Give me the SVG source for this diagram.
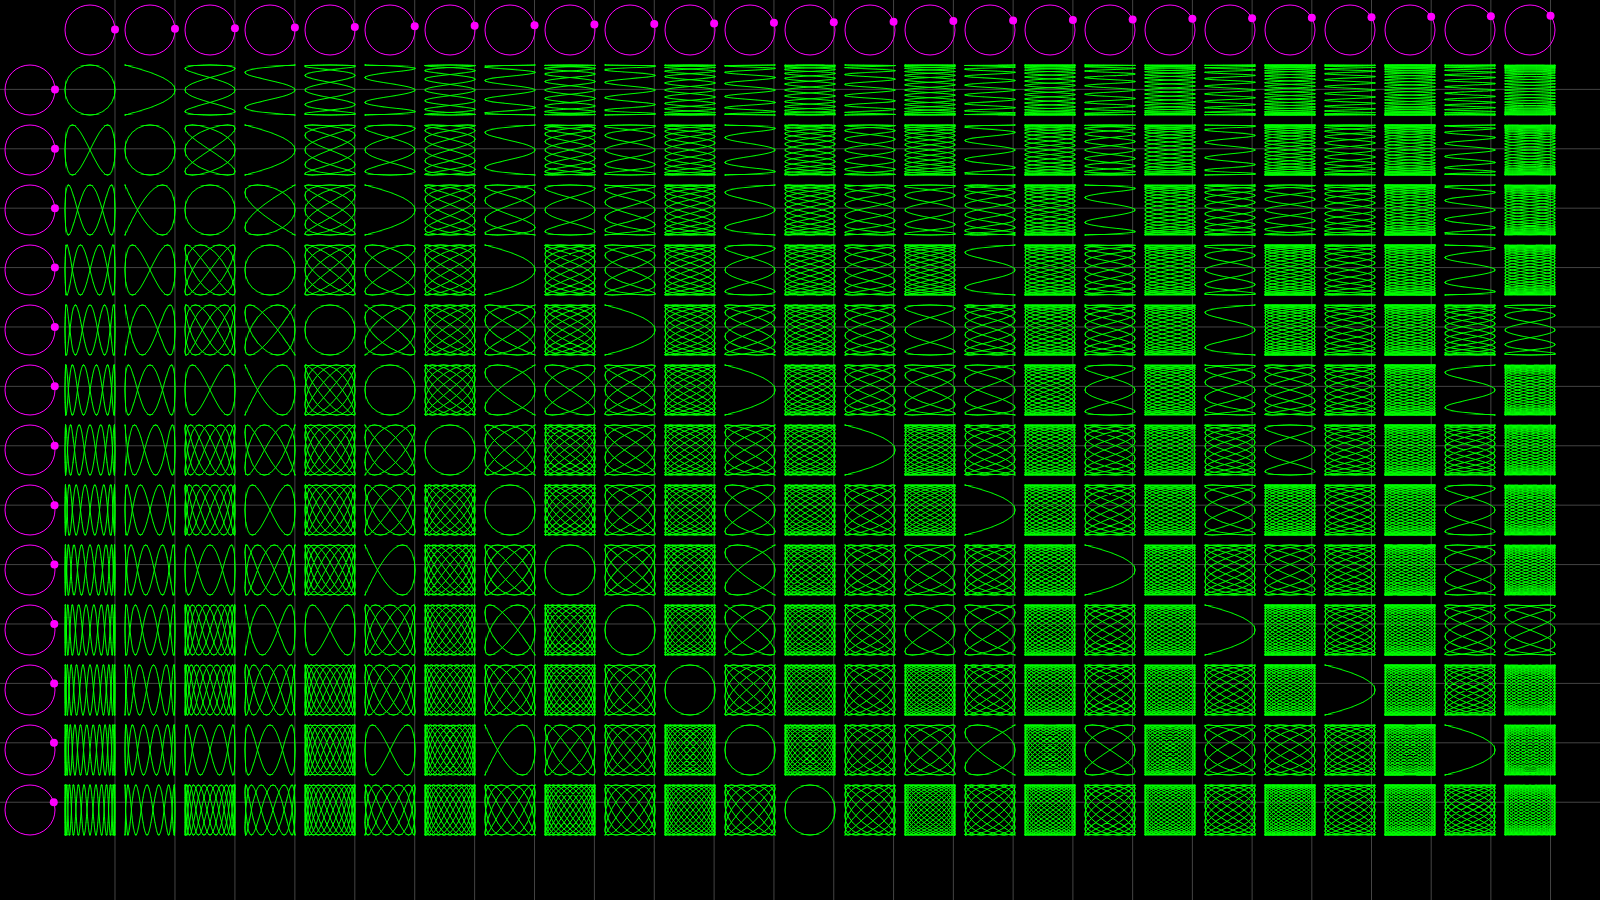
<svg xmlns="http://www.w3.org/2000/svg" width="1600" height="900" viewBox="0 0 1600 900">
<style>
.g{fill:none;stroke:#0f0;stroke-width:1px;vector-effect:non-scaling-stroke}
.sc{transform:scale(var(--sx),var(--sy))}
.u1{--sx:3.141593}.u2{--sx:1.570796}.u3{--sx:1.047198}.u4{--sx:.785398}.u5{--sx:.628319}.u6{--sx:.523599}.u7{--sx:.448799}.u8{--sx:.392699}.u9{--sx:.349066}.u10{--sx:.314159}.u11{--sx:.285599}.u12{--sx:.261799}.u13{--sx:.241661}
.U1{--sx:6.283185}.U3{--sx:2.094395}.U5{--sx:1.256637}.U7{--sx:.897598}.U9{--sx:.698132}.U11{--sx:.571199}.U13{--sx:.483322}
.v1{--sy:3.141593}.v3{--sy:1.047198}.v5{--sy:.628319}.v7{--sy:.448799}.v9{--sy:.349066}.v11{--sy:.285599}.v13{--sy:.241661}.v15{--sy:.20944}.v17{--sy:.1848}.v19{--sy:.165347}.v21{--sy:.1496}.v23{--sy:.136591}.v25{--sy:.125664}
.V2{--sy:3.141593}.V4{--sy:1.570796}.V6{--sy:1.047198}.V8{--sy:.785398}.V10{--sy:.628319}.V12{--sy:.523599}.V14{--sy:.448799}.V16{--sy:.392699}.V18{--sy:.349066}.V20{--sy:.314159}.V22{--sy:.285599}.V24{--sy:.261799}
.hc{fill:none;stroke:#f0f;stroke-width:1}
.dot{fill:#f0f}
.ln{fill:none;stroke:#444;stroke-width:1}
</style>
<defs>
<path id="ps" class="g sc" d="M-8.2-4.2l8.4 8.4m-7.4-8.4l8.4 8.4m-7.4-8.4l8.4 8.4m-7.4-8.4l8.4 8.4m-7.4-8.4l8.4 8.4m-7.4-8.4l8.4 8.4m-7.4-8.4l8.4 8.4m-7.4-8.4l8.4 8.4m-7.4-8.4l8.4 8.4m-7.4-8.4l8.4 8.4m-7.4-8.4l8.4 8.4m-7.4-8.4l8.4 8.4m-7.4-8.4l8.4 8.4m-7.4-8.4l8.4 8.4M.2-4.2l-8.4 8.4m9.4-8.4l-8.4 8.4m9.4-8.4l-8.4 8.4m9.4-8.4l-8.4 8.4m9.4-8.4l-8.4 8.4m9.4-8.4l-8.4 8.4m9.4-8.4l-8.4 8.4m9.4-8.4l-8.4 8.4m9.4-8.4l-8.4 8.4m9.4-8.4l-8.4 8.4m9.4-8.4l-8.4 8.4m9.4-8.4l-8.4 8.4m9.4-8.4l-8.4 8.4m9.4-8.4l-8.4 8.4"/>
<path id="pm" class="g sc" d="M-12.7-6.7l13.4 13.4m-12.4-13.4l13.4 13.4m-12.4-13.4l13.4 13.4m-12.4-13.4l13.4 13.4m-12.4-13.4l13.4 13.4m-12.4-13.4l13.4 13.4m-12.4-13.4l13.4 13.4m-12.4-13.4l13.4 13.4m-12.4-13.4l13.4 13.4m-12.4-13.4l13.4 13.4m-12.4-13.4l13.4 13.4m-12.4-13.4l13.4 13.4m-12.4-13.4l13.4 13.4m-12.4-13.4l13.4 13.4m-12.4-13.4l13.4 13.4m-12.4-13.4l13.4 13.4m-12.4-13.4l13.4 13.4m-12.4-13.4l13.4 13.4m-12.4-13.4l13.4 13.4m-12.4-13.4l13.4 13.4m-12.4-13.4l13.4 13.4m-12.4-13.4l13.4 13.4m-12.4-13.4l13.4 13.4m-12.4-13.4l13.4 13.4m-12.4-13.4l13.4 13.4m-12.4-13.4l13.4 13.4m-12.4-13.4l13.4 13.4M.7-6.7l-13.4 13.4m14.4-13.4l-13.4 13.4m14.4-13.4l-13.4 13.4m14.4-13.4l-13.4 13.4m14.4-13.4l-13.4 13.4m14.4-13.4l-13.4 13.4m14.4-13.4l-13.4 13.4m14.4-13.4l-13.4 13.4m14.4-13.4l-13.4 13.4m14.4-13.4l-13.4 13.4m14.4-13.4l-13.4 13.4m14.4-13.4l-13.4 13.4m14.4-13.4l-13.4 13.4m14.4-13.4l-13.4 13.4m14.4-13.4l-13.4 13.4m14.4-13.4l-13.4 13.4m14.4-13.4l-13.4 13.4m14.4-13.4l-13.4 13.4m14.4-13.4l-13.4 13.4m14.4-13.4l-13.4 13.4m14.4-13.4l-13.4 13.4m14.4-13.4l-13.4 13.4m14.4-13.4l-13.4 13.4m14.4-13.4l-13.4 13.4m14.4-13.4l-13.4 13.4m14.4-13.4l-13.4 13.4m14.4-13.4l-13.4 13.4"/>
<path id="pl" class="g sc" d="M-24.7-12.7l25.4 25.4m-24.4-25.4l25.4 25.4m-24.4-25.4l25.4 25.4m-24.4-25.4l25.4 25.4m-24.4-25.4l25.4 25.4m-24.4-25.4l25.4 25.4m-24.4-25.4l25.4 25.4m-24.4-25.4l25.4 25.4m-24.4-25.4l25.4 25.4m-24.4-25.4l25.4 25.4m-24.4-25.4l25.4 25.4m-24.4-25.4l25.4 25.4m-24.4-25.4l25.4 25.4m-24.4-25.4l25.4 25.4m-24.4-25.4l25.4 25.4m-24.4-25.4l25.4 25.4m-24.4-25.4l25.4 25.4m-24.4-25.4l25.4 25.4m-24.4-25.4l25.4 25.4m-24.4-25.4l25.4 25.4m-24.4-25.4l25.4 25.4m-24.4-25.4l25.4 25.4m-24.4-25.4l25.4 25.4m-24.4-25.4l25.4 25.4m-24.4-25.4l25.4 25.4m-24.4-25.4l25.4 25.4m-24.4-25.4l25.4 25.4m-24.4-25.4l25.4 25.4m-24.4-25.4l25.4 25.4m-24.4-25.4l25.4 25.4m-24.4-25.4l25.4 25.4m-24.4-25.4l25.4 25.4m-24.4-25.4l25.4 25.4m-24.4-25.4l25.4 25.4m-24.4-25.4l25.4 25.4m-24.4-25.4l25.4 25.4m-24.4-25.4l25.4 25.4m-24.4-25.4l25.4 25.4m-24.4-25.4l25.4 25.4M.7-12.7l-25.4 25.4m26.4-25.4l-25.4 25.4m26.4-25.4l-25.4 25.4m26.4-25.4l-25.4 25.4m26.4-25.4l-25.4 25.4m26.4-25.4l-25.4 25.4m26.4-25.4l-25.4 25.4m26.4-25.4l-25.4 25.4m26.4-25.4l-25.4 25.4m26.4-25.4l-25.4 25.4m26.4-25.4l-25.4 25.4m26.4-25.4l-25.4 25.4m26.4-25.4l-25.4 25.4m26.4-25.4l-25.4 25.4m26.4-25.4l-25.4 25.4m26.4-25.4l-25.4 25.4m26.4-25.4l-25.4 25.4m26.4-25.4l-25.4 25.4m26.4-25.4l-25.4 25.4m26.4-25.4l-25.4 25.4m26.4-25.4l-25.4 25.4m26.4-25.4l-25.4 25.4m26.4-25.4l-25.4 25.4m26.4-25.4l-25.4 25.4m26.4-25.4l-25.4 25.4m26.4-25.4l-25.4 25.4m26.4-25.4l-25.4 25.4m26.4-25.4l-25.4 25.4m26.4-25.4l-25.4 25.4m26.4-25.4l-25.4 25.4m26.4-25.4l-25.4 25.4m26.4-25.4l-25.4 25.4m26.4-25.4l-25.4 25.4m26.4-25.4l-25.4 25.4m26.4-25.4l-25.4 25.4m26.4-25.4l-25.4 25.4m26.4-25.4l-25.4 25.4m26.4-25.4l-25.4 25.4m26.4-25.4l-25.4 25.4"/>
<clipPath id="c0"><rect x="-.1" y="-1.5708" width="3.4" height=".3078"/></clipPath>
<clipPath id="c1"><rect x="-.1" y="-1.3247" width="3.4" height=".2932"/></clipPath>
<clipPath id="c2"><rect x="-.1" y="-1.0571" width="3.4" height=".2816"/></clipPath>
<clipPath id="c3"><rect x="-.1" y="-.793" width="3.4" height=".277"/></clipPath>
<clipPath id="c4"><rect x="-.1" y="-.5301" width="3.4" height=".2748"/></clipPath>
<clipPath id="c5"><rect x="-.1" y="-.2679" width="3.4" height=".5358"/></clipPath>
<clipPath id="c7"><rect x="-.1" y=".2553" width="3.4" height=".2748"/></clipPath>
<clipPath id="c8"><rect x="-.1" y=".516" width="3.4" height=".277"/></clipPath>
<clipPath id="c9"><rect x="-.1" y=".7755" width="3.4" height=".2816"/></clipPath>
<clipPath id="c10"><rect x="-.1" y="1.0315" width="3.4" height=".2932"/></clipPath>
<clipPath id="c11"><rect x="-.1" y="1.263" width="3.4" height=".3078"/></clipPath>
<clipPath id="d0"><rect x="0" y="-27" width=".3078" height="54"/></clipPath>
<clipPath id="d1"><rect x=".2461" y="-27" width=".2932" height="54"/></clipPath>
<clipPath id="d2"><rect x=".5137" y="-27" width=".2816" height="54"/></clipPath>
<clipPath id="d3"><rect x=".7778" y="-27" width=".277" height="54"/></clipPath>
<clipPath id="d4"><rect x="1.0407" y="-27" width=".2748" height="54"/></clipPath>
<clipPath id="d5"><rect x="1.3029" y="-27" width=".5358" height="54"/></clipPath>
<clipPath id="d7"><rect x="1.8261" y="-27" width=".2748" height="54"/></clipPath>
<clipPath id="d8"><rect x="2.0868" y="-27" width=".277" height="54"/></clipPath>
<clipPath id="d9"><rect x="2.3463" y="-27" width=".2816" height="54"/></clipPath>
<clipPath id="d10"><rect x="2.6023" y="-27" width=".2932" height="54"/></clipPath>
<clipPath id="d11"><rect x="2.8338" y="-27" width=".3078" height="54"/></clipPath>
<g id="vs">
<use href="#ps" transform="matrix(1 0 0 -3.25384 0 19.88888)" clip-path="url(#c0)"/>
<use href="#ps" transform="matrix(1 0 0 -5.1637 0 17.38888)" clip-path="url(#c0)"/>
<use href="#ps" transform="matrix(1 0 0 -9.53979 0 11.6606)" clip-path="url(#c1)"/>
<use href="#ps" transform="matrix(1 0 0 -15.17561 0 5.75877)" clip-path="url(#c2)"/>
<use href="#ps" transform="matrix(1 0 0 -19.77723 0 2.14467)" clip-path="url(#c3)"/>
<use href="#ps" transform="matrix(1 0 0 -23.03107 0 .44096)" clip-path="url(#c4)"/>
<use href="#ps" transform="matrix(1 0 0 -24.7154 0 0)" clip-path="url(#c5)"/>
<use href="#ps" transform="matrix(1 0 0 -23.03107 0 -.44096)" clip-path="url(#c7)"/>
<use href="#ps" transform="matrix(1 0 0 -19.77723 0 -2.14467)" clip-path="url(#c8)"/>
<use href="#ps" transform="matrix(1 0 0 -15.17561 0 -5.75877)" clip-path="url(#c9)"/>
<use href="#ps" transform="matrix(1 0 0 -9.53979 0 -11.6606)" clip-path="url(#c10)"/>
<use href="#ps" transform="matrix(1 0 0 -3.25384 0 -19.88888)" clip-path="url(#c11)"/>
<use href="#ps" transform="matrix(1 0 0 -5.1637 0 -17.38888)" clip-path="url(#c11)"/>
</g>
<g id="vm">
<use href="#pm" transform="matrix(1 0 0 -3.25384 0 19.88888)" clip-path="url(#c0)"/>
<use href="#pm" transform="matrix(1 0 0 -5.1637 0 17.38888)" clip-path="url(#c0)"/>
<use href="#pm" transform="matrix(1 0 0 -9.53979 0 11.6606)" clip-path="url(#c1)"/>
<use href="#pm" transform="matrix(1 0 0 -15.17561 0 5.75877)" clip-path="url(#c2)"/>
<use href="#pm" transform="matrix(1 0 0 -19.77723 0 2.14467)" clip-path="url(#c3)"/>
<use href="#pm" transform="matrix(1 0 0 -23.03107 0 .44096)" clip-path="url(#c4)"/>
<use href="#pm" transform="matrix(1 0 0 -24.7154 0 0)" clip-path="url(#c5)"/>
<use href="#pm" transform="matrix(1 0 0 -23.03107 0 -.44096)" clip-path="url(#c7)"/>
<use href="#pm" transform="matrix(1 0 0 -19.77723 0 -2.14467)" clip-path="url(#c8)"/>
<use href="#pm" transform="matrix(1 0 0 -15.17561 0 -5.75877)" clip-path="url(#c9)"/>
<use href="#pm" transform="matrix(1 0 0 -9.53979 0 -11.6606)" clip-path="url(#c10)"/>
<use href="#pm" transform="matrix(1 0 0 -3.25384 0 -19.88888)" clip-path="url(#c11)"/>
<use href="#pm" transform="matrix(1 0 0 -5.1637 0 -17.38888)" clip-path="url(#c11)"/>
</g>
<g id="vl">
<use href="#pl" transform="matrix(1 0 0 -3.25384 0 19.88888)" clip-path="url(#c0)"/>
<use href="#pl" transform="matrix(1 0 0 -5.1637 0 17.38888)" clip-path="url(#c0)"/>
<use href="#pl" transform="matrix(1 0 0 -9.53979 0 11.6606)" clip-path="url(#c1)"/>
<use href="#pl" transform="matrix(1 0 0 -15.17561 0 5.75877)" clip-path="url(#c2)"/>
<use href="#pl" transform="matrix(1 0 0 -19.77723 0 2.14467)" clip-path="url(#c3)"/>
<use href="#pl" transform="matrix(1 0 0 -23.03107 0 .44096)" clip-path="url(#c4)"/>
<use href="#pl" transform="matrix(1 0 0 -24.7154 0 0)" clip-path="url(#c5)"/>
<use href="#pl" transform="matrix(1 0 0 -23.03107 0 -.44096)" clip-path="url(#c7)"/>
<use href="#pl" transform="matrix(1 0 0 -19.77723 0 -2.14467)" clip-path="url(#c8)"/>
<use href="#pl" transform="matrix(1 0 0 -15.17561 0 -5.75877)" clip-path="url(#c9)"/>
<use href="#pl" transform="matrix(1 0 0 -9.53979 0 -11.6606)" clip-path="url(#c10)"/>
<use href="#pl" transform="matrix(1 0 0 -3.25384 0 -19.88888)" clip-path="url(#c11)"/>
<use href="#pl" transform="matrix(1 0 0 -5.1637 0 -17.38888)" clip-path="url(#c11)"/>
</g>
<g id="s">
<use href="#vs" transform="matrix(-3.25384 0 0 1 25 0)" clip-path="url(#d0)"/>
<use href="#vs" transform="matrix(-5.1637 0 0 1 25.5 0)" clip-path="url(#d0)"/>
<use href="#vs" transform="matrix(-9.53979 0 0 1 26.64566 0)" clip-path="url(#d1)"/>
<use href="#vs" transform="matrix(-15.17561 0 0 1 29.59657 0)" clip-path="url(#d2)"/>
<use href="#vs" transform="matrix(-19.77723 0 0 1 33.21067 0)" clip-path="url(#d3)"/>
<use href="#vs" transform="matrix(-23.03107 0 0 1 36.61808 0)" clip-path="url(#d4)"/>
<use href="#vs" transform="matrix(-24.7154 0 0 1 38.82287 0)" clip-path="url(#d5)"/>
<use href="#vs" transform="matrix(-23.03107 0 0 1 35.73617 0)" clip-path="url(#d7)"/>
<use href="#vs" transform="matrix(-19.77723 0 0 1 28.92133 0)" clip-path="url(#d8)"/>
<use href="#vs" transform="matrix(-15.17561 0 0 1 18.07903 0)" clip-path="url(#d9)"/>
<use href="#vs" transform="matrix(-9.53979 0 0 1 3.32447 0)" clip-path="url(#d10)"/>
<use href="#vs" transform="matrix(-3.25384 0 0 1 -14.77776 0)" clip-path="url(#d11)"/>
<use href="#vs" transform="matrix(-5.1637 0 0 1 -9.27776 0)" clip-path="url(#d11)"/>
</g>
<g id="m">
<use href="#vm" transform="matrix(-3.25384 0 0 1 25 0)" clip-path="url(#d0)"/>
<use href="#vm" transform="matrix(-5.1637 0 0 1 25.5 0)" clip-path="url(#d0)"/>
<use href="#vm" transform="matrix(-9.53979 0 0 1 26.64566 0)" clip-path="url(#d1)"/>
<use href="#vm" transform="matrix(-15.17561 0 0 1 29.59657 0)" clip-path="url(#d2)"/>
<use href="#vm" transform="matrix(-19.77723 0 0 1 33.21067 0)" clip-path="url(#d3)"/>
<use href="#vm" transform="matrix(-23.03107 0 0 1 36.61808 0)" clip-path="url(#d4)"/>
<use href="#vm" transform="matrix(-24.7154 0 0 1 38.82287 0)" clip-path="url(#d5)"/>
<use href="#vm" transform="matrix(-23.03107 0 0 1 35.73617 0)" clip-path="url(#d7)"/>
<use href="#vm" transform="matrix(-19.77723 0 0 1 28.92133 0)" clip-path="url(#d8)"/>
<use href="#vm" transform="matrix(-15.17561 0 0 1 18.07903 0)" clip-path="url(#d9)"/>
<use href="#vm" transform="matrix(-9.53979 0 0 1 3.32447 0)" clip-path="url(#d10)"/>
<use href="#vm" transform="matrix(-3.25384 0 0 1 -14.77776 0)" clip-path="url(#d11)"/>
<use href="#vm" transform="matrix(-5.1637 0 0 1 -9.27776 0)" clip-path="url(#d11)"/>
</g>
<g id="l">
<use href="#vl" transform="matrix(-3.25384 0 0 1 25 0)" clip-path="url(#d0)"/>
<use href="#vl" transform="matrix(-5.1637 0 0 1 25.5 0)" clip-path="url(#d0)"/>
<use href="#vl" transform="matrix(-9.53979 0 0 1 26.64566 0)" clip-path="url(#d1)"/>
<use href="#vl" transform="matrix(-15.17561 0 0 1 29.59657 0)" clip-path="url(#d2)"/>
<use href="#vl" transform="matrix(-19.77723 0 0 1 33.21067 0)" clip-path="url(#d3)"/>
<use href="#vl" transform="matrix(-23.03107 0 0 1 36.61808 0)" clip-path="url(#d4)"/>
<use href="#vl" transform="matrix(-24.7154 0 0 1 38.82287 0)" clip-path="url(#d5)"/>
<use href="#vl" transform="matrix(-23.03107 0 0 1 35.73617 0)" clip-path="url(#d7)"/>
<use href="#vl" transform="matrix(-19.77723 0 0 1 28.92133 0)" clip-path="url(#d8)"/>
<use href="#vl" transform="matrix(-15.17561 0 0 1 18.07903 0)" clip-path="url(#d9)"/>
<use href="#vl" transform="matrix(-9.53979 0 0 1 3.32447 0)" clip-path="url(#d10)"/>
<use href="#vl" transform="matrix(-3.25384 0 0 1 -14.77776 0)" clip-path="url(#d11)"/>
<use href="#vl" transform="matrix(-5.1637 0 0 1 -9.27776 0)" clip-path="url(#d11)"/>
</g>
</defs>
<rect width="1600" height="900" fill="#000"/>
<g id="guide-lines" class="ln">
<path d="M114.99 0V900M174.97 0V900M234.93 0V900M294.88 0V900M354.82 0V900M414.73 0V900M474.64 0V900M534.53 0V900M594.4 0V900M654.27 0V900M714.11 0V900M773.94 0V900M833.76 0V900M893.57 0V900M953.36 0V900M1013.13 0V900M1072.9 0V900M1132.65 0V900M1192.38 0V900M1252.11 0V900M1311.82 0V900M1371.51 0V900M1431.2 0V900M1490.87 0V900M1550.53 0V900"/>
<path d="M0 89.39H1600M0 148.79H1600M0 208.18H1600M0 267.57H1600M0 326.97H1600M0 386.37H1600M0 445.77H1600M0 505.17H1600M0 564.58H1600M0 623.98H1600M0 683.4H1600M0 742.81H1600M0 802.23H1600"/>
</g>
<g id="header-circles" class="hc">
<circle cx="90" cy="30" r="25"/><circle cx="150" cy="30" r="25"/><circle cx="210" cy="30" r="25"/><circle cx="270" cy="30" r="25"/><circle cx="330" cy="30" r="25"/><circle cx="390" cy="30" r="25"/><circle cx="450" cy="30" r="25"/><circle cx="510" cy="30" r="25"/><circle cx="570" cy="30" r="25"/><circle cx="630" cy="30" r="25"/><circle cx="690" cy="30" r="25"/><circle cx="750" cy="30" r="25"/><circle cx="810" cy="30" r="25"/><circle cx="870" cy="30" r="25"/><circle cx="930" cy="30" r="25"/><circle cx="990" cy="30" r="25"/><circle cx="1050" cy="30" r="25"/><circle cx="1110" cy="30" r="25"/><circle cx="1170" cy="30" r="25"/><circle cx="1230" cy="30" r="25"/><circle cx="1290" cy="30" r="25"/><circle cx="1350" cy="30" r="25"/><circle cx="1410" cy="30" r="25"/><circle cx="1470" cy="30" r="25"/><circle cx="1530" cy="30" r="25"/>
<circle cx="30" cy="90" r="25"/><circle cx="30" cy="150" r="25"/><circle cx="30" cy="210" r="25"/><circle cx="30" cy="270" r="25"/><circle cx="30" cy="330" r="25"/><circle cx="30" cy="390" r="25"/><circle cx="30" cy="450" r="25"/><circle cx="30" cy="510" r="25"/><circle cx="30" cy="570" r="25"/><circle cx="30" cy="630" r="25"/><circle cx="30" cy="690" r="25"/><circle cx="30" cy="750" r="25"/><circle cx="30" cy="810" r="25"/>
</g>
<g id="header-dots" class="dot">
<circle cx="114.99" cy="29.39" r="4"/><circle cx="174.97" cy="28.79" r="4"/><circle cx="234.93" cy="28.18" r="4"/><circle cx="294.88" cy="27.57" r="4"/><circle cx="354.82" cy="26.97" r="4"/><circle cx="414.73" cy="26.37" r="4"/><circle cx="474.64" cy="25.77" r="4"/><circle cx="534.53" cy="25.17" r="4"/><circle cx="594.4" cy="24.58" r="4"/><circle cx="654.27" cy="23.98" r="4"/><circle cx="714.11" cy="23.4" r="4"/><circle cx="773.94" cy="22.81" r="4"/><circle cx="833.76" cy="22.23" r="4"/><circle cx="893.57" cy="21.66" r="4"/><circle cx="953.36" cy="21.09" r="4"/><circle cx="1013.13" cy="20.52" r="4"/><circle cx="1072.9" cy="19.96" r="4"/><circle cx="1132.65" cy="19.41" r="4"/><circle cx="1192.38" cy="18.86" r="4"/><circle cx="1252.11" cy="18.32" r="4"/><circle cx="1311.82" cy="17.79" r="4"/><circle cx="1371.51" cy="17.26" r="4"/><circle cx="1431.2" cy="16.74" r="4"/><circle cx="1490.87" cy="16.23" r="4"/><circle cx="1550.53" cy="15.73" r="4"/>
<circle cx="54.99" cy="89.39" r="4"/><circle cx="54.97" cy="148.79" r="4"/><circle cx="54.93" cy="208.18" r="4"/><circle cx="54.88" cy="267.57" r="4"/><circle cx="54.82" cy="326.97" r="4"/><circle cx="54.73" cy="386.37" r="4"/><circle cx="54.64" cy="445.77" r="4"/><circle cx="54.53" cy="505.17" r="4"/><circle cx="54.4" cy="564.58" r="4"/><circle cx="54.27" cy="623.98" r="4"/><circle cx="54.11" cy="683.4" r="4"/><circle cx="53.94" cy="742.81" r="4"/><circle cx="53.76" cy="802.23" r="4"/>
</g>
<g id="curves">
<g id="row1" transform="translate(0 90)">
<use href="#s" class="u1 v1" x="90"/><use href="#s" class="U1 V2" x="150"/><use href="#s" class="u1 v3" x="210"/><use href="#s" class="U1 V4" x="270"/><use href="#s" class="u1 v5" x="330"/><use href="#s" class="U1 V6" x="390"/><use href="#s" class="u1 v7" x="450"/><use href="#s" class="U1 V8" x="510"/><use href="#m" class="u1 v9" x="570"/><use href="#s" class="U1 V10" x="630"/><use href="#m" class="u1 v11" x="690"/><use href="#s" class="U1 V12" x="750"/><use href="#m" class="u1 v13" x="810"/><use href="#s" class="U1 V14" x="870"/><use href="#l" class="u1 v15" x="930"/><use href="#s" class="U1 V16" x="990"/><use href="#l" class="u1 v17" x="1050"/><use href="#m" class="U1 V18" x="1110"/><use href="#l" class="u1 v19" x="1170"/><use href="#m" class="U1 V20" x="1230"/><use href="#l" class="u1 v21" x="1290"/><use href="#m" class="U1 V22" x="1350"/><use href="#l" class="u1 v23" x="1410"/><use href="#m" class="U1 V24" x="1470"/><use href="#l" class="u1 v25" x="1530"/>
</g>
<g id="row2" transform="translate(0 150)">
<use href="#s" class="u2 v1" x="90"/><use href="#s" class="u1 v1" x="150"/><use href="#s" class="u2 v3" x="210"/><use href="#s" class="U1 V2" x="270"/><use href="#s" class="u2 v5" x="330"/><use href="#s" class="u1 v3" x="390"/><use href="#s" class="u2 v7" x="450"/><use href="#s" class="U1 V4" x="510"/><use href="#m" class="u2 v9" x="570"/><use href="#s" class="u1 v5" x="630"/><use href="#m" class="u2 v11" x="690"/><use href="#s" class="U1 V6" x="750"/><use href="#m" class="u2 v13" x="810"/><use href="#s" class="u1 v7" x="870"/><use href="#l" class="u2 v15" x="930"/><use href="#s" class="U1 V8" x="990"/><use href="#l" class="u2 v17" x="1050"/><use href="#m" class="u1 v9" x="1110"/><use href="#l" class="u2 v19" x="1170"/><use href="#s" class="U1 V10" x="1230"/><use href="#l" class="u2 v21" x="1290"/><use href="#m" class="u1 v11" x="1350"/><use href="#l" class="u2 v23" x="1410"/><use href="#s" class="U1 V12" x="1470"/><use href="#l" class="u2 v25" x="1530"/>
</g>
<g id="row3" transform="translate(0 210)">
<use href="#s" class="u3 v1" x="90"/><use href="#s" class="U3 V2" x="150"/><use href="#s" class="u1 v1" x="210"/><use href="#s" class="U3 V4" x="270"/><use href="#s" class="u3 v5" x="330"/><use href="#s" class="U1 V2" x="390"/><use href="#s" class="u3 v7" x="450"/><use href="#s" class="U3 V8" x="510"/><use href="#s" class="u1 v3" x="570"/><use href="#s" class="U3 V10" x="630"/><use href="#m" class="u3 v11" x="690"/><use href="#s" class="U1 V4" x="750"/><use href="#m" class="u3 v13" x="810"/><use href="#s" class="U3 V14" x="870"/><use href="#s" class="u1 v5" x="930"/><use href="#s" class="U3 V16" x="990"/><use href="#l" class="u3 v17" x="1050"/><use href="#s" class="U1 V6" x="1110"/><use href="#l" class="u3 v19" x="1170"/><use href="#m" class="U3 V20" x="1230"/><use href="#s" class="u1 v7" x="1290"/><use href="#m" class="U3 V22" x="1350"/><use href="#l" class="u3 v23" x="1410"/><use href="#s" class="U1 V8" x="1470"/><use href="#l" class="u3 v25" x="1530"/>
</g>
<g id="row4" transform="translate(0 270)">
<use href="#s" class="u4 v1" x="90"/><use href="#s" class="u2 v1" x="150"/><use href="#s" class="u4 v3" x="210"/><use href="#s" class="u1 v1" x="270"/><use href="#s" class="u4 v5" x="330"/><use href="#s" class="u2 v3" x="390"/><use href="#s" class="u4 v7" x="450"/><use href="#s" class="U1 V2" x="510"/><use href="#m" class="u4 v9" x="570"/><use href="#s" class="u2 v5" x="630"/><use href="#m" class="u4 v11" x="690"/><use href="#s" class="u1 v3" x="750"/><use href="#m" class="u4 v13" x="810"/><use href="#s" class="u2 v7" x="870"/><use href="#l" class="u4 v15" x="930"/><use href="#s" class="U1 V4" x="990"/><use href="#l" class="u4 v17" x="1050"/><use href="#m" class="u2 v9" x="1110"/><use href="#l" class="u4 v19" x="1170"/><use href="#s" class="u1 v5" x="1230"/><use href="#l" class="u4 v21" x="1290"/><use href="#m" class="u2 v11" x="1350"/><use href="#l" class="u4 v23" x="1410"/><use href="#s" class="U1 V6" x="1470"/><use href="#l" class="u4 v25" x="1530"/>
</g>
<g id="row5" transform="translate(0 330)">
<use href="#m" class="u5 v1" x="90"/><use href="#s" class="U5 V2" x="150"/><use href="#m" class="u5 v3" x="210"/><use href="#s" class="U5 V4" x="270"/><use href="#s" class="u1 v1" x="330"/><use href="#s" class="U5 V6" x="390"/><use href="#m" class="u5 v7" x="450"/><use href="#s" class="U5 V8" x="510"/><use href="#m" class="u5 v9" x="570"/><use href="#s" class="U1 V2" x="630"/><use href="#m" class="u5 v11" x="690"/><use href="#s" class="U5 V12" x="750"/><use href="#m" class="u5 v13" x="810"/><use href="#s" class="U5 V14" x="870"/><use href="#s" class="u1 v3" x="930"/><use href="#s" class="U5 V16" x="990"/><use href="#l" class="u5 v17" x="1050"/><use href="#m" class="U5 V18" x="1110"/><use href="#l" class="u5 v19" x="1170"/><use href="#s" class="U1 V4" x="1230"/><use href="#l" class="u5 v21" x="1290"/><use href="#m" class="U5 V22" x="1350"/><use href="#l" class="u5 v23" x="1410"/><use href="#m" class="U5 V24" x="1470"/><use href="#s" class="u1 v5" x="1530"/>
</g>
<g id="row6" transform="translate(0 390)">
<use href="#m" class="u6 v1" x="90"/><use href="#s" class="u3 v1" x="150"/><use href="#s" class="u2 v1" x="210"/><use href="#s" class="U3 V2" x="270"/><use href="#m" class="u6 v5" x="330"/><use href="#s" class="u1 v1" x="390"/><use href="#m" class="u6 v7" x="450"/><use href="#s" class="U3 V4" x="510"/><use href="#s" class="u2 v3" x="570"/><use href="#s" class="u3 v5" x="630"/><use href="#m" class="u6 v11" x="690"/><use href="#s" class="U1 V2" x="750"/><use href="#m" class="u6 v13" x="810"/><use href="#s" class="u3 v7" x="870"/><use href="#s" class="u2 v5" x="930"/><use href="#s" class="U3 V8" x="990"/><use href="#l" class="u6 v17" x="1050"/><use href="#s" class="u1 v3" x="1110"/><use href="#l" class="u6 v19" x="1170"/><use href="#s" class="U3 V10" x="1230"/><use href="#s" class="u2 v7" x="1290"/><use href="#m" class="u3 v11" x="1350"/><use href="#l" class="u6 v23" x="1410"/><use href="#s" class="U1 V4" x="1470"/><use href="#l" class="u6 v25" x="1530"/>
</g>
<g id="row7" transform="translate(0 450)">
<use href="#m" class="u7 v1" x="90"/><use href="#s" class="U7 V2" x="150"/><use href="#m" class="u7 v3" x="210"/><use href="#s" class="U7 V4" x="270"/><use href="#m" class="u7 v5" x="330"/><use href="#s" class="U7 V6" x="390"/><use href="#s" class="u1 v1" x="450"/><use href="#s" class="U7 V8" x="510"/><use href="#m" class="u7 v9" x="570"/><use href="#s" class="U7 V10" x="630"/><use href="#m" class="u7 v11" x="690"/><use href="#s" class="U7 V12" x="750"/><use href="#m" class="u7 v13" x="810"/><use href="#s" class="U1 V2" x="870"/><use href="#l" class="u7 v15" x="930"/><use href="#s" class="U7 V16" x="990"/><use href="#l" class="u7 v17" x="1050"/><use href="#m" class="U7 V18" x="1110"/><use href="#l" class="u7 v19" x="1170"/><use href="#m" class="U7 V20" x="1230"/><use href="#s" class="u1 v3" x="1290"/><use href="#m" class="U7 V22" x="1350"/><use href="#l" class="u7 v23" x="1410"/><use href="#m" class="U7 V24" x="1470"/><use href="#l" class="u7 v25" x="1530"/>
</g>
<g id="row8" transform="translate(0 510)">
<use href="#m" class="u8 v1" x="90"/><use href="#s" class="u4 v1" x="150"/><use href="#m" class="u8 v3" x="210"/><use href="#s" class="u2 v1" x="270"/><use href="#m" class="u8 v5" x="330"/><use href="#s" class="u4 v3" x="390"/><use href="#m" class="u8 v7" x="450"/><use href="#s" class="u1 v1" x="510"/><use href="#m" class="u8 v9" x="570"/><use href="#s" class="u4 v5" x="630"/><use href="#m" class="u8 v11" x="690"/><use href="#s" class="u2 v3" x="750"/><use href="#m" class="u8 v13" x="810"/><use href="#s" class="u4 v7" x="870"/><use href="#l" class="u8 v15" x="930"/><use href="#s" class="U1 V2" x="990"/><use href="#l" class="u8 v17" x="1050"/><use href="#m" class="u4 v9" x="1110"/><use href="#l" class="u8 v19" x="1170"/><use href="#s" class="u2 v5" x="1230"/><use href="#l" class="u8 v21" x="1290"/><use href="#m" class="u4 v11" x="1350"/><use href="#l" class="u8 v23" x="1410"/><use href="#s" class="u1 v3" x="1470"/><use href="#l" class="u8 v25" x="1530"/>
</g>
<g id="row9" transform="translate(0 570)">
<use href="#m" class="u9 v1" x="90"/><use href="#m" class="U9 V2" x="150"/><use href="#s" class="u3 v1" x="210"/><use href="#m" class="U9 V4" x="270"/><use href="#m" class="u9 v5" x="330"/><use href="#s" class="U3 V2" x="390"/><use href="#m" class="u9 v7" x="450"/><use href="#m" class="U9 V8" x="510"/><use href="#s" class="u1 v1" x="570"/><use href="#m" class="U9 V10" x="630"/><use href="#m" class="u9 v11" x="690"/><use href="#s" class="U3 V4" x="750"/><use href="#m" class="u9 v13" x="810"/><use href="#m" class="U9 V14" x="870"/><use href="#s" class="u3 v5" x="930"/><use href="#m" class="U9 V16" x="990"/><use href="#l" class="u9 v17" x="1050"/><use href="#s" class="U1 V2" x="1110"/><use href="#l" class="u9 v19" x="1170"/><use href="#m" class="U9 V20" x="1230"/><use href="#s" class="u3 v7" x="1290"/><use href="#m" class="U9 V22" x="1350"/><use href="#l" class="u9 v23" x="1410"/><use href="#s" class="U3 V8" x="1470"/><use href="#l" class="u9 v25" x="1530"/>
</g>
<g id="row10" transform="translate(0 630)">
<use href="#m" class="u10 v1" x="90"/><use href="#m" class="u5 v1" x="150"/><use href="#m" class="u10 v3" x="210"/><use href="#s" class="U5 V2" x="270"/><use href="#s" class="u2 v1" x="330"/><use href="#m" class="u5 v3" x="390"/><use href="#m" class="u10 v7" x="450"/><use href="#s" class="U5 V4" x="510"/><use href="#m" class="u10 v9" x="570"/><use href="#s" class="u1 v1" x="630"/><use href="#m" class="u10 v11" x="690"/><use href="#s" class="U5 V6" x="750"/><use href="#m" class="u10 v13" x="810"/><use href="#m" class="u5 v7" x="870"/><use href="#s" class="u2 v3" x="930"/><use href="#s" class="U5 V8" x="990"/><use href="#l" class="u10 v17" x="1050"/><use href="#m" class="u5 v9" x="1110"/><use href="#l" class="u10 v19" x="1170"/><use href="#s" class="U1 V2" x="1230"/><use href="#l" class="u10 v21" x="1290"/><use href="#m" class="u5 v11" x="1350"/><use href="#l" class="u10 v23" x="1410"/><use href="#s" class="U5 V12" x="1470"/><use href="#s" class="u2 v5" x="1530"/>
</g>
<g id="row11" transform="translate(0 690)">
<use href="#m" class="u11 v1" x="90"/><use href="#m" class="U11 V2" x="150"/><use href="#m" class="u11 v3" x="210"/><use href="#m" class="U11 V4" x="270"/><use href="#m" class="u11 v5" x="330"/><use href="#m" class="U11 V6" x="390"/><use href="#m" class="u11 v7" x="450"/><use href="#m" class="U11 V8" x="510"/><use href="#m" class="u11 v9" x="570"/><use href="#m" class="U11 V10" x="630"/><use href="#s" class="u1 v1" x="690"/><use href="#m" class="U11 V12" x="750"/><use href="#m" class="u11 v13" x="810"/><use href="#m" class="U11 V14" x="870"/><use href="#l" class="u11 v15" x="930"/><use href="#m" class="U11 V16" x="990"/><use href="#l" class="u11 v17" x="1050"/><use href="#m" class="U11 V18" x="1110"/><use href="#l" class="u11 v19" x="1170"/><use href="#m" class="U11 V20" x="1230"/><use href="#l" class="u11 v21" x="1290"/><use href="#s" class="U1 V2" x="1350"/><use href="#l" class="u11 v23" x="1410"/><use href="#m" class="U11 V24" x="1470"/><use href="#l" class="u11 v25" x="1530"/>
</g>
<g id="row12" transform="translate(0 750)">
<use href="#m" class="u12 v1" x="90"/><use href="#m" class="u6 v1" x="150"/><use href="#s" class="u4 v1" x="210"/><use href="#s" class="u3 v1" x="270"/><use href="#m" class="u12 v5" x="330"/><use href="#s" class="u2 v1" x="390"/><use href="#m" class="u12 v7" x="450"/><use href="#s" class="U3 V2" x="510"/><use href="#s" class="u4 v3" x="570"/><use href="#m" class="u6 v5" x="630"/><use href="#m" class="u12 v11" x="690"/><use href="#s" class="u1 v1" x="750"/><use href="#m" class="u12 v13" x="810"/><use href="#m" class="u6 v7" x="870"/><use href="#s" class="u4 v5" x="930"/><use href="#s" class="U3 V4" x="990"/><use href="#l" class="u12 v17" x="1050"/><use href="#s" class="u2 v3" x="1110"/><use href="#l" class="u12 v19" x="1170"/><use href="#s" class="u3 v5" x="1230"/><use href="#s" class="u4 v7" x="1290"/><use href="#m" class="u6 v11" x="1350"/><use href="#l" class="u12 v23" x="1410"/><use href="#s" class="U1 V2" x="1470"/><use href="#l" class="u12 v25" x="1530"/>
</g>
<g id="row13" transform="translate(0 810)">
<use href="#m" class="u13 v1" x="90"/><use href="#m" class="U13 V2" x="150"/><use href="#m" class="u13 v3" x="210"/><use href="#m" class="U13 V4" x="270"/><use href="#m" class="u13 v5" x="330"/><use href="#m" class="U13 V6" x="390"/><use href="#m" class="u13 v7" x="450"/><use href="#m" class="U13 V8" x="510"/><use href="#m" class="u13 v9" x="570"/><use href="#m" class="U13 V10" x="630"/><use href="#m" class="u13 v11" x="690"/><use href="#m" class="U13 V12" x="750"/><use href="#s" class="u1 v1" x="810"/><use href="#m" class="U13 V14" x="870"/><use href="#l" class="u13 v15" x="930"/><use href="#m" class="U13 V16" x="990"/><use href="#l" class="u13 v17" x="1050"/><use href="#m" class="U13 V18" x="1110"/><use href="#l" class="u13 v19" x="1170"/><use href="#m" class="U13 V20" x="1230"/><use href="#l" class="u13 v21" x="1290"/><use href="#m" class="U13 V22" x="1350"/><use href="#l" class="u13 v23" x="1410"/><use href="#m" class="U13 V24" x="1470"/><use href="#l" class="u13 v25" x="1530"/>
</g>
</g>
</svg>
